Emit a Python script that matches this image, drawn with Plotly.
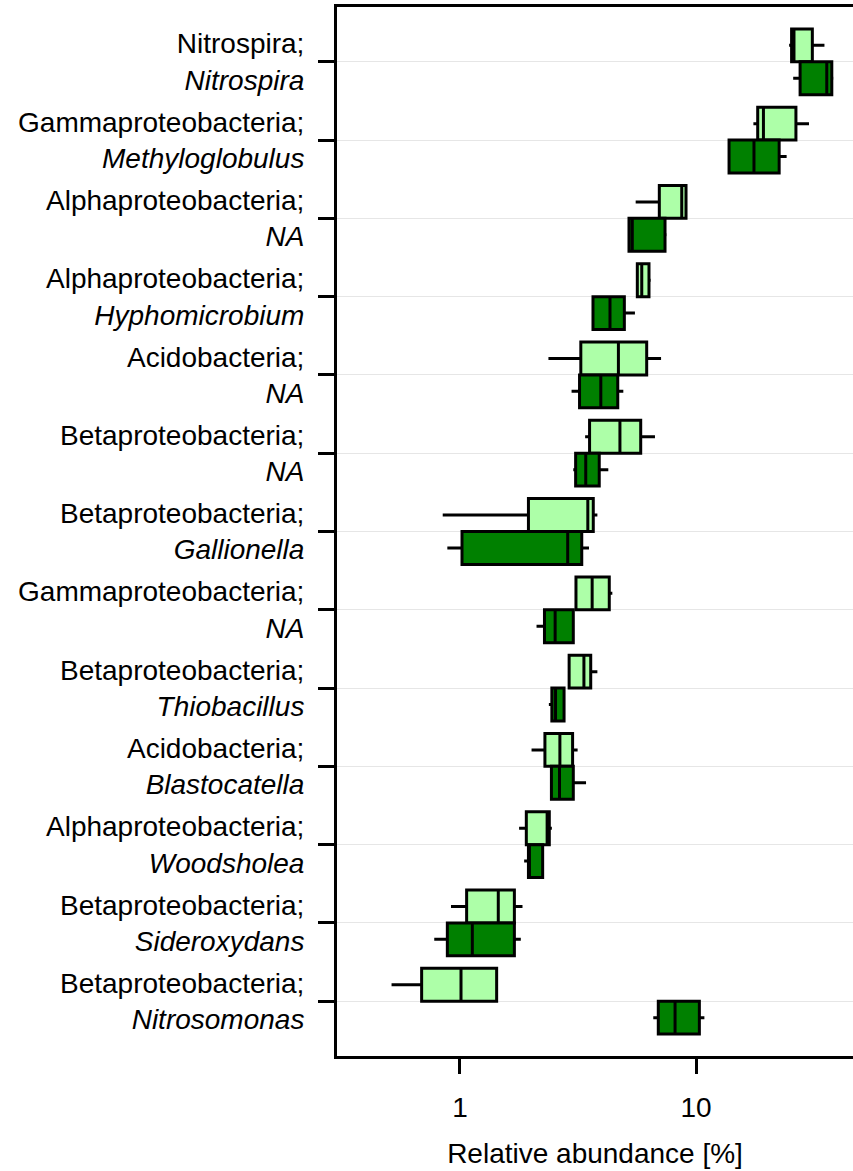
import plotly.graph_objects as go

# Taxa, listed top to bottom: class (upright) and genus (italic)
classes = [
    "Nitrospira;", "Gammaproteobacteria;", "Alphaproteobacteria;", "Alphaproteobacteria;",
    "Acidobacteria;", "Betaproteobacteria;", "Betaproteobacteria;", "Gammaproteobacteria;",
    "Betaproteobacteria;", "Acidobacteria;", "Alphaproteobacteria;", "Betaproteobacteria;",
    "Betaproteobacteria;",
]
genera = [
    "Nitrospira", "Methyloglobulus", "NA", "Hyphomicrobium", "NA", "NA", "Gallionella",
    "NA", "Thiobacillus", "Blastocatella", "Woodsholea", "Sideroxydans", "Nitrosomonas",
]
categories = [f"t{i}" for i in range(len(classes))]
tick_labels = [f"{c}<br><i>{g}</i>" for c, g in zip(classes, genera)]

# Light group: box statistics (relative abundance, %)
light_lower = [24.8, 17.5, 5.55, 5.57, 2.37, 3.39, 0.845, 3.10, 2.86, 2.01, 1.78, 0.916, 0.513]
light_q1 = [25.4, 18.25, 6.99, 5.64, 3.25, 3.54, 1.95, 3.10, 2.90, 2.29, 1.91, 1.067, 0.688]
light_median = [26.0, 19.3, 8.70, 5.89, 4.69, 4.76, 3.48, 3.63, 3.35, 2.65, 2.34, 1.453, 1.01]
light_q3 = [31.1, 26.5, 9.07, 6.32, 6.18, 5.83, 3.67, 4.29, 3.58, 3.00, 2.39, 1.70, 1.43]
light_upper = [35.0, 30.1, 9.13, 6.43, 7.11, 6.70, 3.82, 4.42, 3.82, 3.15, 2.45, 1.84, 1.44]

# Dark group: box statistics (relative abundance, %)
dark_lower = [25.8, 13.6, 5.13, 3.66, 2.97, 3.02, 0.884, 2.11, 2.38, 2.41, 1.87, 0.778, 6.59]
dark_q1 = [27.6, 13.8, 5.20, 3.66, 3.21, 3.09, 1.02, 2.28, 2.45, 2.44, 1.95, 0.884, 6.92]
dark_median = [35.8, 17.6, 5.37, 4.32, 3.95, 3.41, 2.86, 2.53, 2.54, 2.64, 1.96, 1.128, 8.15]
dark_q3 = [37.6, 22.5, 7.39, 4.97, 4.66, 3.89, 3.28, 3.02, 2.76, 3.02, 2.24, 1.70, 10.33]
dark_upper = [38.2, 24.2, 7.51, 5.51, 4.92, 4.25, 3.52, 3.02, 2.80, 3.42, 2.24, 1.81, 10.85]

x_ticks = [1, 10]
x_tick_text = ["1", "10"]

FONT = "Liberation Sans, Arial, sans-serif"
FS = 28

fig = go.Figure()
for name, color, lo, q1, med, q3, hi in [
    ("light", "#adffa8", light_lower, light_q1, light_median, light_q3, light_upper),
    ("dark", "#008000", dark_lower, dark_q1, dark_median, dark_q3, dark_upper),
]:
    fig.add_trace(go.Box(
        name=name,
        y=categories,
        orientation="h",
        lowerfence=lo, q1=q1, median=med, q3=q3, upperfence=hi,
        fillcolor=color,
        line=dict(color="black", width=3),
        whiskerwidth=0,
        boxpoints=False,
        showlegend=False,
    ))

fig.update_layout(
    width=853, height=1171,
    margin=dict(l=337, r=0, t=7, b=115),
    paper_bgcolor="white", plot_bgcolor="white",
    boxmode="group", boxgap=0.16, boxgroupgap=0,
    font=dict(family=FONT, size=FS, color="black"),
    xaxis=dict(
        type="log", range=[-0.521, 1.665],
        tickvals=x_ticks, ticktext=x_tick_text,
        ticks="outside", ticklen=15, tickwidth=2.6, tickcolor="black",
        ticklabelstandoff=9,
        showline=True, linecolor="black", linewidth=3, mirror=True,
        showgrid=False, zeroline=False,
        title=dict(text="Relative abundance [%]", standoff=22,
                   font=dict(family=FONT, size=FS)),
        tickfont=dict(family=FONT, size=FS),
    ),
    yaxis=dict(
        type="category", categoryarray=categories,
        range=[12.7, -0.7],
        tickvals=categories, ticktext=tick_labels,
        ticks="outside", ticklen=16, tickwidth=2.6, tickcolor="black",
        ticklabelstandoff=8,
        showline=True, linecolor="black", linewidth=3,
        showgrid=True, gridcolor="#e6e6e6", gridwidth=1,
        zeroline=False,
        tickfont=dict(family=FONT, size=FS),
    ),
)

fig.write_html("out.html")
